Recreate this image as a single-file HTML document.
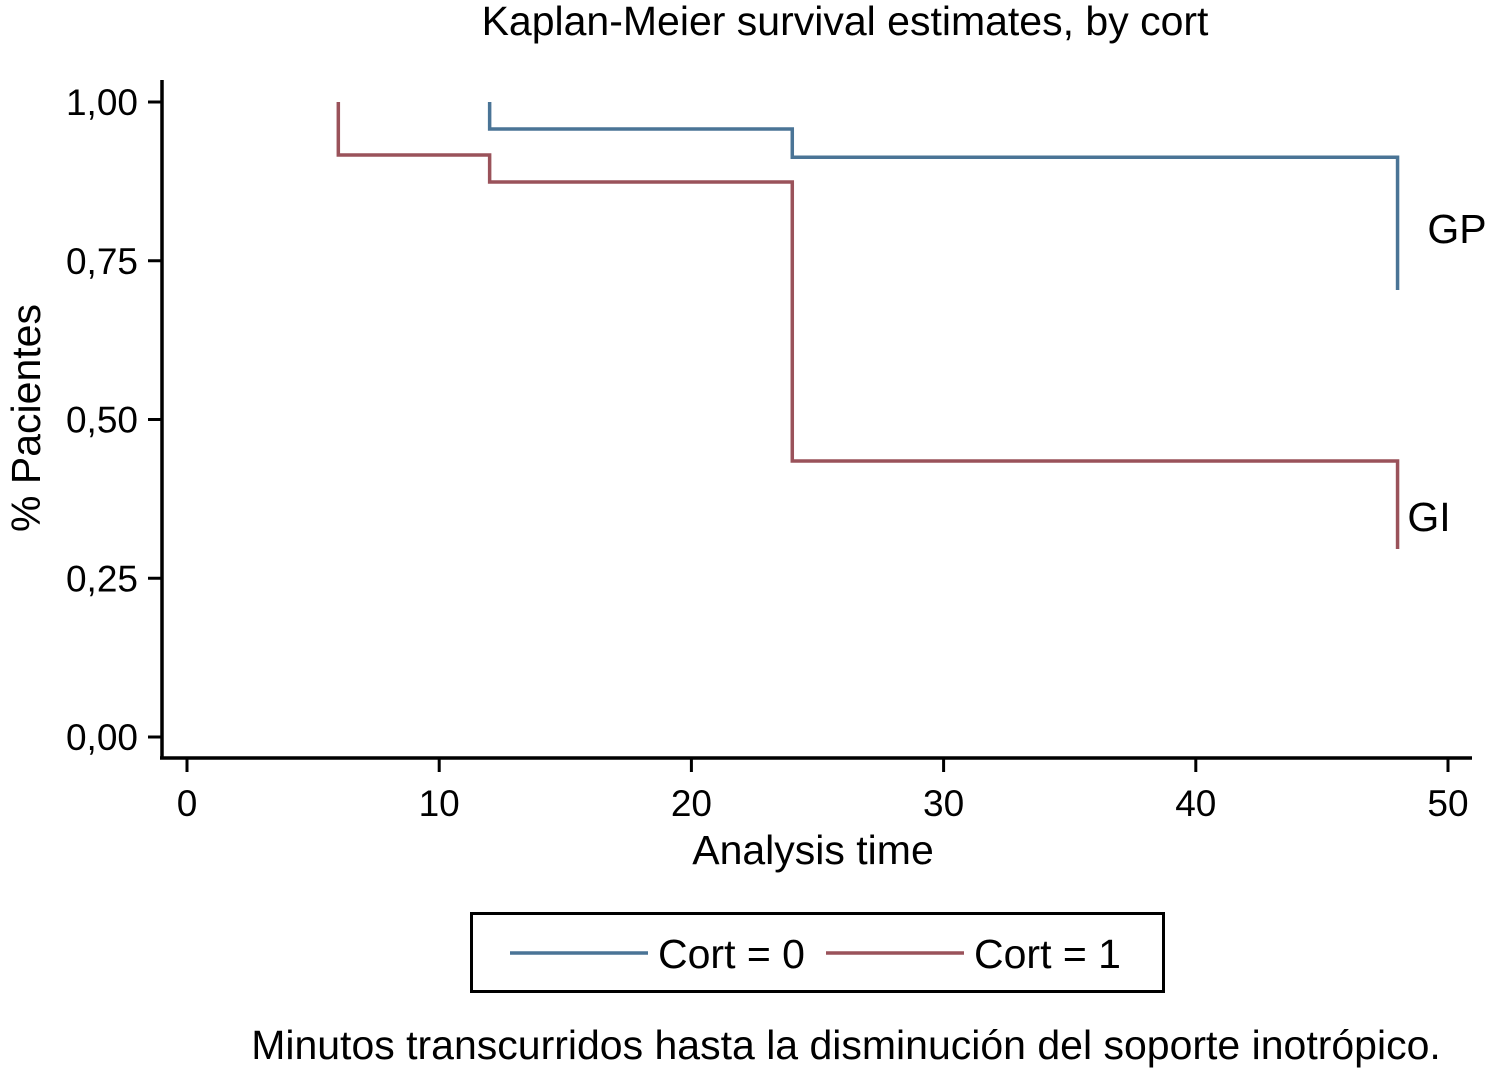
<!DOCTYPE html>
<html><head><meta charset="utf-8"><style>
body{margin:0;background:#fff;}
svg text{font-family:"Liberation Sans",Arial,sans-serif;fill:#000;}
</style></head><body>
<svg id="chart" width="1488" height="1068">
<text x="845" y="35" font-size="41" text-anchor="middle">Kaplan-Meier survival estimates, by cort</text>
<g id="axes"></g>
<g id="series"></g>
<text x="1457" y="243" font-size="41" text-anchor="middle">GP</text>
<text x="1429" y="531" font-size="41" text-anchor="middle">GI</text>
<text x="813" y="864" font-size="41" text-anchor="middle">Analysis time</text>
<text transform="translate(40,418) rotate(-90)" font-size="41" text-anchor="middle">% Pacientes</text>
<g>
<rect x="471.5" y="913.5" width="692" height="78" fill="none" stroke="#000" stroke-width="3"/>
<line x1="510" y1="953" x2="648" y2="953" stroke="#4a7496" stroke-width="3.5"/>
<text x="658" y="968" font-size="41">Cort = 0</text>
<line x1="826" y1="953" x2="964" y2="953" stroke="#9a525a" stroke-width="3.5"/>
<text x="974" y="968" font-size="41">Cort = 1</text>
</g>
<text x="846" y="1059" font-size="41" text-anchor="middle">Minutos transcurridos hasta la disminución del soporte inotrópico.</text>
</svg>
<script>
const xTicks=[0,10,20,30,40,50];
const yTicks=[0,0.25,0.5,0.75,1];
const yTickLabels=["0,00","0,25","0,50","0,75","1,00"];
const cort0Times=[12,24,48];
const cort0Surv=[0.9575,0.913,0.704];
const cort1Times=[6,12,24,48];
const cort1Surv=[0.9165,0.874,0.4346,0.296];
const sx=v=>187+v*(1448-187)/50;
const sy=v=>737-v*635;
const NS="http://www.w3.org/2000/svg";
const axes=document.getElementById('axes'),series=document.getElementById('series');
function mk(tag,attrs,parent){const e=document.createElementNS(NS,tag);for(const k in attrs)e.setAttribute(k,attrs[k]);parent.appendChild(e);return e;}
let yl=mk('line',{x1:162,y1:80,x2:162,y2:759,stroke:'#000','stroke-width':3.5},axes);


let xl=mk('line',{x1:160,y1:758,x2:1472,y2:758,stroke:'#000','stroke-width':3.5},axes);


yTicks.forEach((v,i)=>{
 const t=mk('line',{x1:148,y1:sy(v),x2:162,y2:sy(v),stroke:'#000','stroke-width':3},axes);
 
 
 const l=mk('text',{x:138,y:sy(v)+13,'font-size':37,'text-anchor':'end'},axes);
 l.textContent=yTickLabels[i];
 
 
});
xTicks.forEach(v=>{
 const t=mk('line',{x1:sx(v),y1:758,x2:sx(v),y2:772,stroke:'#000','stroke-width':3},axes);
 
 
 const l=mk('text',{x:sx(v),y:816,'font-size':37,'text-anchor':'middle'},axes);
 l.textContent=v;
 
 
});
function step(times,surv,color,name){
 let d=`M${sx(times[0])},${sy(1)}`;
 times.forEach((t,i)=>{d+=` H${sx(t)} V${sy(surv[i])}`;});
 const p=mk('path',{d:d,fill:'none',stroke:color,'stroke-width':3.5},series);
 
 
}
step(cort0Times,cort0Surv,'#4a7496','survival-line-cort0');
step(cort1Times,cort1Surv,'#9a525a','survival-line-cort1');
</script>
</body></html>
